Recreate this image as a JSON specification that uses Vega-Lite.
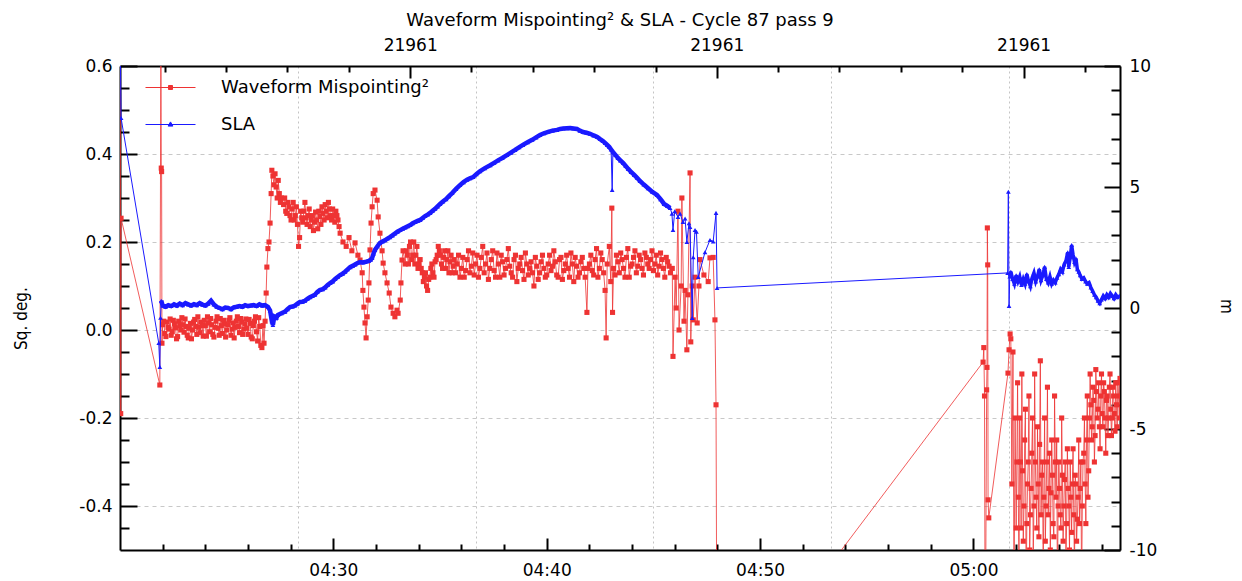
{
  "$schema": "https://vega.github.io/schema/vega-lite/v6.json",
  "width": 1000,
  "height": 484,
  "autosize": {"type": "none"},
  "padding": {"left": 120, "top": 66, "right": 122, "bottom": 31},
  "background": "white",
  "title": {"text": "Waveform Mispointing² & SLA - Cycle 87 pass 9", "font": "DejaVu Sans", "fontSize": 18, "fontWeight": "normal", "color": "#000", "anchor": "middle", "frame": "group", "offset": 6},
  "config": {
    "view": {"stroke": null},
    "axis": {"labelFont": "DejaVu Sans", "labelFontSize": 17, "labelColor": "#000", "tickColor": "#000", "domainColor": "#000", "tickWidth": 2, "domainWidth": 2, "labelFlush": false, "labelOverlap": false, "titleColor": "#000"}
  },
  "layer": [
    {
      "data": {"values": [
        {"t":"04:20:01","v":0.63},{"t":"04:20:02","v":-0.19},{"t":"04:20:03","v":0.254},{"t":"04:21:52","v":-0.125},{"t":"04:21:55","v":0.63},{"t":"04:21:56","v":0.368},{"t":"04:21:57","v":0.36},{"t":"04:21:58","v":-0.03},
        {"t":"04:22:00","v":0.012},{"t":"04:22:06","v":-0.008},{"t":"04:22:12","v":0.018},{"t":"04:22:18","v":0.002},{"t":"04:22:24","v":-0.012},{"t":"04:22:30","v":0.022},{"t":"04:22:36","v":0.005},{"t":"04:22:42","v":-0.015},{"t":"04:22:48","v":0.01},{"t":"04:22:54","v":0.028},
        {"t":"04:23:00","v":-0.005},{"t":"04:23:06","v":0.008},{"t":"04:23:12","v":-0.018},{"t":"04:23:18","v":0.015},{"t":"04:23:24","v":0.0},{"t":"04:23:30","v":0.024},{"t":"04:23:36","v":-0.01},{"t":"04:23:42","v":0.006},{"t":"04:23:48","v":0.018},{"t":"04:23:54","v":-0.014},
        {"t":"04:24:00","v":0.01},{"t":"04:24:06","v":0.03},{"t":"04:24:12","v":-0.004},{"t":"04:24:18","v":0.012},{"t":"04:24:24","v":-0.016},{"t":"04:24:30","v":0.02},{"t":"04:24:36","v":0.004},{"t":"04:24:42","v":0.026},{"t":"04:24:48","v":-0.008},{"t":"04:24:54","v":0.014},
        {"t":"04:25:00","v":0.0},{"t":"04:25:06","v":0.022},{"t":"04:25:12","v":-0.012},{"t":"04:25:18","v":0.016},{"t":"04:25:24","v":0.006},{"t":"04:25:30","v":0.03},{"t":"04:25:36","v":-0.006},{"t":"04:25:42","v":0.018},{"t":"04:25:48","v":0.002},{"t":"04:25:54","v":0.025},
        {"t":"04:26:00","v":-0.01},{"t":"04:26:06","v":0.015},{"t":"04:26:12","v":-0.02},{"t":"04:26:18","v":0.02},{"t":"04:26:24","v":-0.004},{"t":"04:26:30","v":0.028},{"t":"04:26:36","v":-0.035},{"t":"04:26:39","v":-0.04},{"t":"04:26:42","v":0.01},{"t":"04:26:45","v":-0.03},{"t":"04:26:48","v":0.02},{"t":"04:26:51","v":0.084},{"t":"04:26:53","v":0.143},{"t":"04:26:56","v":0.185},{"t":"04:26:59","v":0.2},
        {"t":"04:27:02","v":0.243},{"t":"04:27:05","v":0.31},{"t":"04:27:07","v":0.363},{"t":"04:27:10","v":0.35},{"t":"04:27:13","v":0.33},{"t":"04:27:16","v":0.355},{"t":"04:27:19","v":0.325},{"t":"04:27:22","v":0.3},{"t":"04:27:25","v":0.34},{"t":"04:27:28","v":0.31},{"t":"04:27:31","v":0.29},{"t":"04:27:34","v":0.3},{"t":"04:27:40","v":0.285},{"t":"04:27:46","v":0.27},{"t":"04:27:52","v":0.29},{"t":"04:27:58","v":0.26},
        {"t":"04:28:04","v":0.275},{"t":"04:28:10","v":0.25},{"t":"04:28:16","v":0.28},{"t":"04:28:22","v":0.19},{"t":"04:28:28","v":0.27},{"t":"04:28:34","v":0.245},{"t":"04:28:40","v":0.29},{"t":"04:28:46","v":0.24},{"t":"04:28:52","v":0.275},{"t":"04:28:58","v":0.25},
        {"t":"04:29:04","v":0.226},{"t":"04:29:10","v":0.268},{"t":"04:29:16","v":0.23},{"t":"04:29:22","v":0.258},{"t":"04:29:28","v":0.28},{"t":"04:29:34","v":0.25},{"t":"04:29:40","v":0.27},{"t":"04:29:46","v":0.29},{"t":"04:29:52","v":0.26},{"t":"04:29:58","v":0.275},
        {"t":"04:30:04","v":0.245},{"t":"04:30:10","v":0.26},{"t":"04:30:16","v":0.235},{"t":"04:30:19","v":0.22},{"t":"04:30:27","v":0.2},{"t":"04:30:36","v":0.19},{"t":"04:30:44","v":0.21},{"t":"04:30:52","v":0.18},
        {"t":"04:31:01","v":0.198},{"t":"04:31:09","v":0.17},{"t":"04:31:15","v":0.159},{"t":"04:31:21","v":0.13},{"t":"04:31:23","v":0.09},{"t":"04:31:26","v":0.052},{"t":"04:31:29","v":0.016},{"t":"04:31:32","v":-0.018},{"t":"04:31:35","v":0.03},{"t":"04:31:38","v":0.068},{"t":"04:31:40","v":0.107},{"t":"04:31:43","v":0.182},{"t":"04:31:46","v":0.243},{"t":"04:31:49","v":0.28},{"t":"04:31:52","v":0.31},{"t":"04:31:57","v":0.318},
        {"t":"04:32:03","v":0.295},{"t":"04:32:06","v":0.257},{"t":"04:32:11","v":0.22},{"t":"04:32:17","v":0.18},{"t":"04:32:20","v":0.152},{"t":"04:32:25","v":0.13},{"t":"04:32:31","v":0.107},{"t":"04:32:37","v":0.084},{"t":"04:32:42","v":0.052},{"t":"04:32:48","v":0.038},{"t":"04:32:53","v":0.03},{"t":"04:32:59","v":0.045},
        {"t":"04:33:02","v":0.038},{"t":"04:33:08","v":0.068},{"t":"04:33:10","v":0.107},{"t":"04:33:13","v":0.159},{"t":"04:33:16","v":0.18},{"t":"04:33:22","v":0.15},{"t":"04:33:28","v":0.17},{"t":"04:33:34","v":0.19},{"t":"04:33:40","v":0.16},{"t":"04:33:46","v":0.2},{"t":"04:33:52","v":0.17},{"t":"04:33:58","v":0.14},
        {"t":"04:34:04","v":0.16},{"t":"04:34:10","v":0.13},{"t":"04:34:16","v":0.12},{"t":"04:34:22","v":0.1},{"t":"04:34:28","v":0.115},{"t":"04:34:34","v":0.14},{"t":"04:34:40","v":0.13},{"t":"04:34:46","v":0.155},{"t":"04:34:52","v":0.17},{"t":"04:34:58","v":0.18},
        {"t":"04:35:04","v":0.15},{"t":"04:35:10","v":0.165},{"t":"04:35:16","v":0.14},{"t":"04:35:22","v":0.18},{"t":"04:35:28","v":0.155},{"t":"04:35:34","v":0.13},{"t":"04:35:40","v":0.16},{"t":"04:35:48","v":0.15},{"t":"04:35:56","v":0.12},
        {"t":"04:36:04","v":0.165},{"t":"04:36:12","v":0.135},{"t":"04:36:20","v":0.18},{"t":"04:36:28","v":0.145},{"t":"04:36:36","v":0.125},{"t":"04:36:44","v":0.17},{"t":"04:36:52","v":0.14},
        {"t":"04:37:00","v":0.19},{"t":"04:37:08","v":0.15},{"t":"04:37:16","v":0.115},{"t":"04:37:24","v":0.16},{"t":"04:37:32","v":0.135},{"t":"04:37:40","v":0.175},{"t":"04:37:48","v":0.12},{"t":"04:37:56","v":0.155},
        {"t":"04:38:04","v":0.14},{"t":"04:38:12","v":0.185},{"t":"04:38:20","v":0.13},{"t":"04:38:28","v":0.16},{"t":"04:38:36","v":0.11},{"t":"04:38:44","v":0.15},{"t":"04:38:52","v":0.135},
        {"t":"04:39:00","v":0.175},{"t":"04:39:08","v":0.125},{"t":"04:39:16","v":0.155},{"t":"04:39:24","v":0.1},{"t":"04:39:32","v":0.145},{"t":"04:39:40","v":0.13},{"t":"04:39:48","v":0.17},{"t":"04:39:56","v":0.12},
        {"t":"04:40:04","v":0.15},{"t":"04:40:12","v":0.135},{"t":"04:40:20","v":0.18},{"t":"04:40:28","v":0.125},{"t":"04:40:36","v":0.16},{"t":"04:40:44","v":0.115},{"t":"04:40:52","v":0.15},
        {"t":"04:41:00","v":0.14},{"t":"04:41:08","v":0.175},{"t":"04:41:16","v":0.11},{"t":"04:41:24","v":0.145},{"t":"04:41:32","v":0.13},{"t":"04:41:40","v":0.165},{"t":"04:41:48","v":0.12},{"t":"04:41:53","v":0.04},{"t":"04:41:56","v":0.14},
        {"t":"04:42:04","v":0.17},{"t":"04:42:12","v":0.125},{"t":"04:42:20","v":0.185},{"t":"04:42:28","v":0.14},{"t":"04:42:36","v":0.16},{"t":"04:42:44","v":0.09},{"t":"04:42:47","v":-0.018},{"t":"04:42:50","v":0.15},{"t":"04:42:56","v":0.19},
        {"t":"04:43:00","v":0.11},{"t":"04:43:03","v":0.277},{"t":"04:43:05","v":0.04},{"t":"04:43:08","v":0.14},{"t":"04:43:16","v":0.17},{"t":"04:43:24","v":0.13},{"t":"04:43:32","v":0.16},{"t":"04:43:40","v":0.12},{"t":"04:43:48","v":0.185},{"t":"04:43:56","v":0.145},
        {"t":"04:44:04","v":0.165},{"t":"04:44:12","v":0.13},{"t":"04:44:20","v":0.17},{"t":"04:44:28","v":0.14},{"t":"04:44:36","v":0.175},{"t":"04:44:44","v":0.15},{"t":"04:44:52","v":0.16},
        {"t":"04:45:00","v":0.135},{"t":"04:45:08","v":0.17},{"t":"04:45:16","v":0.145},{"t":"04:45:24","v":0.16},{"t":"04:45:32","v":0.12},{"t":"04:45:40","v":0.155},{"t":"04:45:48","v":0.13},{"t":"04:45:53","v":0.14},{"t":"04:45:55","v":-0.06},
        {"t":"04:46:01","v":0.12},{"t":"04:46:04","v":0.05},{"t":"04:46:09","v":0.27},{"t":"04:46:12","v":0.0},{"t":"04:46:18","v":0.1},{"t":"04:46:20","v":0.3},{"t":"04:46:26","v":0.02},{"t":"04:46:29","v":0.09},{"t":"04:46:34","v":-0.045},{"t":"04:46:37","v":0.08},{"t":"04:46:43","v":0.357},{"t":"04:46:45","v":-0.027},{"t":"04:46:49","v":0.1},{"t":"04:46:52","v":0.023},{"t":"04:46:57","v":0.12},
        {"t":"04:47:03","v":0.016},{"t":"04:47:08","v":0.1},{"t":"04:47:11","v":0.16},{"t":"04:47:22","v":0.125},{"t":"04:47:34","v":0.11},{"t":"04:47:39","v":0.164},{"t":"04:47:48","v":0.165},{"t":"04:47:53","v":0.023},{"t":"04:47:56","v":-0.17},{"t":"04:47:59","v":-0.875},
        {"t":"05:00:27","v":-0.073},{"t":"05:00:29","v":-0.04},{"t":"05:00:31","v":-0.15},{"t":"05:00:33","v":-0.8},{"t":"05:00:37","v":-0.136},{"t":"05:00:38","v":-0.085},{"t":"05:00:39","v":0.232},{"t":"05:00:40","v":0.148},{"t":"05:00:41","v":-0.386},{"t":"05:00:43","v":-0.427},
        {"t":"05:01:37","v":-0.098},{"t":"05:01:40","v":-0.045},{"t":"05:01:43","v":-0.009},{"t":"05:01:45","v":-0.02},{"t":"05:01:48","v":-0.35},{"t":"05:01:51","v":-0.05},{"t":"05:01:54","v":-0.6},{"t":"05:01:57","v":-0.2},
        {"t":"05:02:00","v":-0.45},{"t":"05:02:04","v":-0.12},{"t":"05:02:08","v":-0.55},{"t":"05:02:12","v":-0.3},{"t":"05:02:16","v":-0.1},{"t":"05:02:20","v":-0.48},{"t":"05:02:24","v":-0.25},{"t":"05:02:28","v":-0.6},{"t":"05:02:32","v":-0.35},{"t":"05:02:36","v":-0.15},{"t":"05:02:40","v":-0.42},{"t":"05:02:44","v":-0.28},{"t":"05:02:48","v":-0.52},{"t":"05:02:52","v":-0.1},{"t":"05:02:56","v":-0.38},
        {"t":"05:03:00","v":-0.22},{"t":"05:03:04","v":-0.47},{"t":"05:03:08","v":-0.07},{"t":"05:03:12","v":-0.33},{"t":"05:03:16","v":-0.55},{"t":"05:03:20","v":-0.2},{"t":"05:03:24","v":-0.4},{"t":"05:03:28","v":-0.13},{"t":"05:03:32","v":-0.36},{"t":"05:03:36","v":-0.5},{"t":"05:03:40","v":-0.25},{"t":"05:03:44","v":-0.44},{"t":"05:03:48","v":-0.15},{"t":"05:03:52","v":-0.38},{"t":"05:03:56","v":-0.6},
        {"t":"05:04:00","v":-0.3},{"t":"05:04:04","v":-0.42},{"t":"05:04:08","v":-0.2},{"t":"05:04:12","v":-0.48},{"t":"05:04:16","v":-0.34},{"t":"05:04:20","v":-0.52},{"t":"05:04:24","v":-0.27},{"t":"05:04:28","v":-0.4},{"t":"05:04:32","v":-0.3},{"t":"05:04:36","v":-0.46},{"t":"05:04:40","v":-0.27},{"t":"05:04:44","v":-0.55},{"t":"05:04:48","v":-0.35},{"t":"05:04:52","v":-0.43},{"t":"05:04:56","v":-0.25},
        {"t":"05:05:00","v":-0.36},{"t":"05:05:04","v":-0.6},{"t":"05:05:08","v":-0.3},{"t":"05:05:12","v":-0.2},{"t":"05:05:16","v":-0.44},{"t":"05:05:20","v":-0.15},{"t":"05:05:24","v":-0.32},{"t":"05:05:28","v":-0.1},{"t":"05:05:32","v":-0.25},{"t":"05:05:36","v":-0.13},{"t":"05:05:40","v":-0.3},{"t":"05:05:44","v":-0.09},{"t":"05:05:48","v":-0.2},{"t":"05:05:52","v":-0.12},{"t":"05:05:56","v":-0.27},
        {"t":"05:06:00","v":-0.1},{"t":"05:06:04","v":-0.22},{"t":"05:06:08","v":-0.14},{"t":"05:06:12","v":-0.28},{"t":"05:06:16","v":-0.15},{"t":"05:06:20","v":-0.2},{"t":"05:06:24","v":-0.1},{"t":"05:06:28","v":-0.24},{"t":"05:06:32","v":-0.13},{"t":"05:06:36","v":-0.19},{"t":"05:06:40","v":-0.12},{"t":"05:06:44","v":-0.22},{"t":"05:06:48","v":-0.15},{"t":"05:06:52","v":-0.11},
        {"t":"04:22:03","v":0.02},{"t":"04:22:09","v":-0.015},{"t":"04:22:15","v":0.006},{"t":"04:22:21","v":0.025},{"t":"04:22:27","v":-0.004},{"t":"04:22:33","v":0.014},{"t":"04:22:39","v":-0.02},{"t":"04:22:45","v":0.02},{"t":"04:22:51","v":0.0},{"t":"04:22:57","v":0.012},
        {"t":"04:23:03","v":0.025},{"t":"04:23:09","v":-0.012},{"t":"04:23:15","v":0.004},{"t":"04:23:21","v":-0.02},{"t":"04:23:27","v":0.018},{"t":"04:23:33","v":0.008},{"t":"04:23:39","v":0.03},{"t":"04:23:45","v":-0.006},{"t":"04:23:51","v":0.01},{"t":"04:23:57","v":0.022},
        {"t":"04:24:03","v":-0.014},{"t":"04:24:09","v":0.016},{"t":"04:24:15","v":0.026},{"t":"04:24:21","v":-0.01},{"t":"04:24:27","v":0.006},{"t":"04:24:33","v":0.03},{"t":"04:24:39","v":-0.012},{"t":"04:24:45","v":0.01},{"t":"04:24:51","v":0.022},{"t":"04:24:57","v":-0.016},
        {"t":"04:25:03","v":0.012},{"t":"04:25:09","v":0.028},{"t":"04:25:15","v":0.002},{"t":"04:25:21","v":-0.018},{"t":"04:25:27","v":0.02},{"t":"04:25:33","v":0.008},{"t":"04:25:39","v":0.026},{"t":"04:25:45","v":-0.01},{"t":"04:25:51","v":0.014},{"t":"04:25:57","v":0.004},
        {"t":"04:26:03","v":0.024},{"t":"04:26:09","v":-0.016},{"t":"04:26:15","v":0.01},{"t":"04:26:21","v":0.03},{"t":"04:26:27","v":-0.025},{"t":"04:26:33","v":0.008},
        {"t":"04:27:43","v":0.3},{"t":"04:27:49","v":0.265},{"t":"04:27:55","v":0.28},{"t":"04:28:01","v":0.25},{"t":"04:28:07","v":0.29},{"t":"04:28:13","v":0.26},{"t":"04:28:19","v":0.24},{"t":"04:28:25","v":0.21},{"t":"04:28:31","v":0.255},{"t":"04:28:37","v":0.27},{"t":"04:28:43","v":0.255},{"t":"04:28:49","v":0.26},{"t":"04:28:55","v":0.235},
        {"t":"04:29:01","v":0.26},{"t":"04:29:07","v":0.245},{"t":"04:29:13","v":0.25},{"t":"04:29:19","v":0.27},{"t":"04:29:25","v":0.24},{"t":"04:29:31","v":0.265},{"t":"04:29:37","v":0.285},{"t":"04:29:43","v":0.255},{"t":"04:29:49","v":0.275},{"t":"04:29:55","v":0.25},{"t":"04:30:01","v":0.26},{"t":"04:30:07","v":0.27},{"t":"04:30:13","v":0.25},
        {"t":"04:33:25","v":0.18},{"t":"04:33:31","v":0.15},{"t":"04:33:37","v":0.2},{"t":"04:33:43","v":0.17},{"t":"04:33:49","v":0.15},{"t":"04:33:55","v":0.19},{"t":"04:34:01","v":0.15},{"t":"04:34:07","v":0.14},{"t":"04:34:13","v":0.11},{"t":"04:34:19","v":0.13},{"t":"04:34:25","v":0.09},{"t":"04:34:31","v":0.12},
        {"t":"04:34:37","v":0.15},{"t":"04:34:43","v":0.12},{"t":"04:34:49","v":0.16},{"t":"04:34:55","v":0.19},{"t":"04:35:01","v":0.17},{"t":"04:35:07","v":0.14},{"t":"04:35:13","v":0.18},{"t":"04:35:19","v":0.16},{"t":"04:35:25","v":0.13},{"t":"04:35:31","v":0.17},{"t":"04:35:37","v":0.145},{"t":"04:35:44","v":0.13},
        {"t":"04:35:52","v":0.17},{"t":"04:36:00","v":0.14},{"t":"04:36:08","v":0.12},{"t":"04:36:16","v":0.16},{"t":"04:36:24","v":0.13},{"t":"04:36:32","v":0.175},{"t":"04:36:40","v":0.15},{"t":"04:36:48","v":0.12},{"t":"04:36:56","v":0.165},
        {"t":"04:37:04","v":0.13},{"t":"04:37:12","v":0.175},{"t":"04:37:20","v":0.14},{"t":"04:37:28","v":0.18},{"t":"04:37:36","v":0.12},{"t":"04:37:44","v":0.15},{"t":"04:37:52","v":0.17},
        {"t":"04:38:00","v":0.125},{"t":"04:38:08","v":0.16},{"t":"04:38:16","v":0.145},{"t":"04:38:24","v":0.12},{"t":"04:38:32","v":0.17},{"t":"04:38:40","v":0.14},{"t":"04:38:48","v":0.165},{"t":"04:38:56","v":0.115},
        {"t":"04:39:04","v":0.15},{"t":"04:39:12","v":0.14},{"t":"04:39:20","v":0.13},{"t":"04:39:28","v":0.165},{"t":"04:39:36","v":0.115},{"t":"04:39:44","v":0.155},{"t":"04:39:52","v":0.14},
        {"t":"04:40:00","v":0.125},{"t":"04:40:08","v":0.17},{"t":"04:40:16","v":0.145},{"t":"04:40:24","v":0.155},{"t":"04:40:32","v":0.12},{"t":"04:40:40","v":0.165},{"t":"04:40:48","v":0.135},{"t":"04:40:56","v":0.17},
        {"t":"04:41:04","v":0.12},{"t":"04:41:12","v":0.15},{"t":"04:41:20","v":0.165},{"t":"04:41:28","v":0.12},{"t":"04:41:36","v":0.155},{"t":"04:41:44","v":0.14},
        {"t":"04:42:00","v":0.15},{"t":"04:42:08","v":0.135},{"t":"04:42:16","v":0.16},{"t":"04:42:24","v":0.12},{"t":"04:42:32","v":0.175},{"t":"04:42:40","v":0.13},
        {"t":"04:43:12","v":0.125},{"t":"04:43:20","v":0.155},{"t":"04:43:28","v":0.175},{"t":"04:43:36","v":0.14},{"t":"04:43:44","v":0.165},{"t":"04:43:52","v":0.12},
        {"t":"04:44:00","v":0.15},{"t":"04:44:08","v":0.18},{"t":"04:44:16","v":0.145},{"t":"04:44:24","v":0.16},{"t":"04:44:32","v":0.125},{"t":"04:44:40","v":0.165},{"t":"04:44:48","v":0.14},{"t":"04:44:56","v":0.18},
        {"t":"04:45:04","v":0.15},{"t":"04:45:12","v":0.125},{"t":"04:45:20","v":0.175},{"t":"04:45:28","v":0.14},{"t":"04:45:36","v":0.165},{"t":"04:45:44","v":0.145},
        {"t":"05:02:02","v":-0.3},{"t":"05:02:06","v":-0.38},{"t":"05:02:10","v":-0.2},{"t":"05:02:14","v":-0.45},{"t":"05:02:18","v":-0.32},{"t":"05:02:22","v":-0.4},{"t":"05:02:26","v":-0.18},{"t":"05:02:30","v":-0.44},{"t":"05:02:34","v":-0.3},{"t":"05:02:38","v":-0.5},{"t":"05:02:42","v":-0.36},{"t":"05:02:46","v":-0.2},{"t":"05:02:50","v":-0.4},{"t":"05:02:54","v":-0.3},{"t":"05:02:58","v":-0.45},
        {"t":"05:03:02","v":-0.35},{"t":"05:03:06","v":-0.26},{"t":"05:03:10","v":-0.42},{"t":"05:03:14","v":-0.3},{"t":"05:03:18","v":-0.38},{"t":"05:03:22","v":-0.48},{"t":"05:03:26","v":-0.3},{"t":"05:03:30","v":-0.42},{"t":"05:03:34","v":-0.28},{"t":"05:03:38","v":-0.37},{"t":"05:03:42","v":-0.33},{"t":"05:03:46","v":-0.47},{"t":"05:03:50","v":-0.3},{"t":"05:03:54","v":-0.25},{"t":"05:03:58","v":-0.4},
        {"t":"05:04:02","v":-0.36},{"t":"05:04:06","v":-0.45},{"t":"05:04:10","v":-0.33},{"t":"05:04:14","v":-0.4},{"t":"05:04:18","v":-0.3},{"t":"05:04:22","v":-0.44},{"t":"05:04:26","v":-0.36},{"t":"05:04:30","v":-0.5},{"t":"05:04:34","v":-0.38},{"t":"05:04:38","v":-0.35},{"t":"05:04:42","v":-0.42},{"t":"05:04:46","v":-0.33},{"t":"05:04:50","v":-0.48},{"t":"05:04:54","v":-0.38},{"t":"05:04:58","v":-0.44},
        {"t":"05:05:02","v":-0.3},{"t":"05:05:06","v":-0.4},{"t":"05:05:10","v":-0.28},{"t":"05:05:14","v":-0.35},{"t":"05:05:18","v":-0.25},{"t":"05:05:22","v":-0.38},{"t":"05:05:26","v":-0.2},{"t":"05:05:30","v":-0.17},{"t":"05:05:34","v":-0.22},{"t":"05:05:38","v":-0.16},{"t":"05:05:42","v":-0.24},{"t":"05:05:46","v":-0.14},{"t":"05:05:50","v":-0.18},{"t":"05:05:54","v":-0.22},{"t":"05:05:58","v":-0.15},
        {"t":"05:06:02","v":-0.19},{"t":"05:06:06","v":-0.12},{"t":"05:06:10","v":-0.2},{"t":"05:06:14","v":-0.16},{"t":"05:06:18","v":-0.24},{"t":"05:06:22","v":-0.13},{"t":"05:06:26","v":-0.18},{"t":"05:06:30","v":-0.2},{"t":"05:06:34","v":-0.15},{"t":"05:06:38","v":-0.23},{"t":"05:06:42","v":-0.17},{"t":"05:06:46","v":-0.12},{"t":"05:06:50","v":-0.2}
      ], "format": {"parse": {"t": "date:'%H:%M:%S'"}}},
      "layer": [
        {
          "mark": {"type": "point", "opacity": 0},
          "encoding": {
            "x": {"field": "t", "type": "temporal",
              "scale": {"domain": [{"year":1900,"month":1,"date":1,"hours":4,"minutes":20,"seconds":0},{"year":1900,"month":1,"date":1,"hours":5,"minutes":6,"seconds":52}]},
              "axis": {"orient": "bottom", "title": null, "labels": false, "ticks": false, "domain": false, "grid": true, "gridColor": "#c4c4c4", "gridDash": [2, 3], "gridWidth": 1,
                "values": [{"year":1900,"month":1,"date":1,"hours":4,"minutes":28,"seconds":20},{"year":1900,"month":1,"date":1,"hours":4,"minutes":36,"seconds":40},{"year":1900,"month":1,"date":1,"hours":4,"minutes":45,"seconds":0},{"year":1900,"month":1,"date":1,"hours":4,"minutes":53,"seconds":20},{"year":1900,"month":1,"date":1,"hours":5,"minutes":1,"seconds":40}]}},
            "y": {"field": "v", "type": "quantitative", "scale": {"domain": [-0.5, 0.6], "zero": false, "nice": false}, "axis": null}
          }
        },
        {
          "mark": {"type": "line", "strokeWidth": 1, "opacity": 0.8, "clip": true},
          "encoding": {
            "x": {"field": "t", "type": "temporal",
              "scale": {"domain": [{"year":1900,"month":1,"date":1,"hours":4,"minutes":20,"seconds":0},{"year":1900,"month":1,"date":1,"hours":5,"minutes":6,"seconds":52}]},
              "axis": {"orient": "bottom", "title": null, "format": "%H:%M", "formatType": "time", "grid": false, "tickSize": -12, "labelPadding": 24, "domain": true,
                "values": [{"year":1900,"month":1,"date":1,"hours":4,"minutes":30},{"year":1900,"month":1,"date":1,"hours":4,"minutes":40},{"year":1900,"month":1,"date":1,"hours":4,"minutes":50},{"year":1900,"month":1,"date":1,"hours":5,"minutes":0}]}},
            "y": {"field": "v", "type": "quantitative", "scale": {"domain": [-0.5, 0.6], "zero": false, "nice": false},
              "axis": {"orient": "left", "values": [-0.4, -0.2, 0, 0.2, 0.4, 0.6], "labelExpr": "datum.value < 0 ? '-' + format(-datum.value, '.1f') : format(datum.value, '.1f')",
                "grid": true, "gridColor": "#c8c8c8", "gridDash": [4, 4], "gridWidth": 1, "tickSize": -17, "labelPadding": 25, "domain": true,
                "title": "Sq. deg.", "titleFont": "Liberation Sans Narrow, DejaVu Sans Condensed, sans-serif", "titleFontSize": 17, "titleFontWeight": "normal", "titleX": -99, "titleY": 252, "titleAngle": 270, "titleAlign": "center", "titleBaseline": "middle"}},
            "color": {"datum": "Waveform Mispointing²", "type": "nominal",
              "scale": {"domain": ["Waveform Mispointing²", "SLA"], "range": ["#ee3333", "#1a1aff"]},
              "legend": {"orient": "none", "legendX": 40, "legendY": 11, "title": null, "padding": 0,
                "symbolSize": 400, "labelOffset": 40, "rowPadding": 17, "labelLimit": 500,
                "labelFont": "DejaVu Sans", "labelFontSize": 18, "labelColor": "#000",
                "symbolType": "M-2.5,0H2.5M-0.2,-0.2H0.2V0.2H-0.2Z", "symbolStrokeWidth": 1,
                "encoding": {"symbols": {
                  "shape": {"value": {"expr": "datum.value === 'SLA' ? 'M-2.5,0H2.5M0,-0.26L0.24,0.16H-0.24Z' : 'M-2.5,0H2.5M-0.2,-0.2H0.2V0.2H-0.2Z'"}},
                  "fill": {"value": {"expr": "datum.value === 'SLA' ? '#1a1aff' : '#ee3333'"}},
                  "stroke": {"value": {"expr": "datum.value === 'SLA' ? '#1a1aff' : '#ee3333'"}},
                  "opacity": {"value": 1}
                }}}}
          }
        },
        {
          "mark": {"type": "square", "size": 26, "color": "#ee3333", "opacity": 1, "clip": true},
          "encoding": {
            "x": {"field": "t", "type": "temporal",
              "scale": {"domain": [{"year":1900,"month":1,"date":1,"hours":4,"minutes":20,"seconds":0},{"year":1900,"month":1,"date":1,"hours":5,"minutes":6,"seconds":52}]},
              "axis": {"orient": "bottom", "title": null, "labels": false, "grid": false, "domain": false, "tickSize": -6,
                "values": [{"year":1900,"month":1,"date":1,"hours":4,"minutes":22},{"year":1900,"month":1,"date":1,"hours":4,"minutes":24},{"year":1900,"month":1,"date":1,"hours":4,"minutes":26},{"year":1900,"month":1,"date":1,"hours":4,"minutes":28},{"year":1900,"month":1,"date":1,"hours":4,"minutes":32},{"year":1900,"month":1,"date":1,"hours":4,"minutes":34},{"year":1900,"month":1,"date":1,"hours":4,"minutes":36},{"year":1900,"month":1,"date":1,"hours":4,"minutes":38},{"year":1900,"month":1,"date":1,"hours":4,"minutes":42},{"year":1900,"month":1,"date":1,"hours":4,"minutes":44},{"year":1900,"month":1,"date":1,"hours":4,"minutes":46},{"year":1900,"month":1,"date":1,"hours":4,"minutes":48},{"year":1900,"month":1,"date":1,"hours":4,"minutes":52},{"year":1900,"month":1,"date":1,"hours":4,"minutes":54},{"year":1900,"month":1,"date":1,"hours":4,"minutes":56},{"year":1900,"month":1,"date":1,"hours":4,"minutes":58},{"year":1900,"month":1,"date":1,"hours":5,"minutes":2},{"year":1900,"month":1,"date":1,"hours":5,"minutes":4},{"year":1900,"month":1,"date":1,"hours":5,"minutes":6}]}},
            "y": {"field": "v", "type": "quantitative", "scale": {"domain": [-0.5, 0.6], "zero": false, "nice": false},
              "axis": {"orient": "left", "title": null, "labels": false, "grid": false, "domain": false, "tickSize": -9,
                "values": [-0.45, -0.35, -0.3, -0.25, -0.15, -0.1, -0.05, 0.05, 0.1, 0.15, 0.25, 0.3, 0.35, 0.45, 0.5, 0.55]}}
          }
        }
      ],
      "resolve": {"axis": {"x": "independent", "y": "independent"}}
    },
    {
      "data": {"values": [
        {"t":"04:20:01","v":10.4},{"t":"04:20:03","v":7.85},{"t":"04:21:49","v":-1.45},{"t":"04:21:52","v":-2.44},{"t":"04:21:54","v":-0.4},{"t":"04:21:56","v":0.3},
        {"t":"04:22:00","v":0.1},{"t":"04:22:08","v":0.05},{"t":"04:22:16","v":0.12},{"t":"04:22:24","v":0.08},{"t":"04:22:32","v":0.15},{"t":"04:22:40","v":0.1},{"t":"04:22:48","v":0.18},{"t":"04:22:56","v":0.12},
        {"t":"04:23:04","v":0.2},{"t":"04:23:12","v":0.15},{"t":"04:23:20","v":0.1},{"t":"04:23:28","v":0.16},{"t":"04:23:36","v":0.12},{"t":"04:23:44","v":0.2},{"t":"04:23:52","v":0.14},
        {"t":"04:24:00","v":0.1},{"t":"04:24:08","v":0.18},{"t":"04:24:16","v":0.3},{"t":"04:24:24","v":0.15},{"t":"04:24:32","v":0.05},{"t":"04:24:40","v":0.0},{"t":"04:24:48","v":-0.05},{"t":"04:24:56","v":0.02},
        {"t":"04:25:04","v":0.0},{"t":"04:25:12","v":-0.05},{"t":"04:25:20","v":0.03},{"t":"04:25:28","v":0.05},{"t":"04:25:36","v":0.08},{"t":"04:25:44","v":0.05},{"t":"04:25:52","v":0.12},
        {"t":"04:26:00","v":0.08},{"t":"04:26:08","v":0.1},{"t":"04:26:16","v":0.12},{"t":"04:26:24","v":0.08},{"t":"04:26:32","v":0.15},{"t":"04:26:40","v":0.1},{"t":"04:26:48","v":0.12},{"t":"04:26:56","v":0.05},
        {"t":"04:27:02","v":-0.1},{"t":"04:27:07","v":-0.55},{"t":"04:27:10","v":-0.7},{"t":"04:27:14","v":-0.35},{"t":"04:27:20","v":-0.4},{"t":"04:27:24","v":-0.29},{"t":"04:27:34","v":-0.22},{"t":"04:27:44","v":-0.15},{"t":"04:27:51","v":-0.05},{"t":"04:27:58","v":0.04},
        {"t":"04:28:05","v":0.06},{"t":"04:28:12","v":0.1},{"t":"04:28:19","v":0.18},{"t":"04:28:26","v":0.25},{"t":"04:28:33","v":0.26},{"t":"04:28:40","v":0.3},{"t":"04:28:47","v":0.38},{"t":"04:28:54","v":0.45},{"t":"04:29:01","v":0.5},{"t":"04:29:08","v":0.55},{"t":"04:29:15","v":0.66},{"t":"04:29:22","v":0.74},{"t":"04:29:30","v":0.78},{"t":"04:29:37","v":0.85},{"t":"04:29:44","v":0.95},{"t":"04:29:51","v":1.03},
        {"t":"04:29:58","v":1.1},{"t":"04:30:05","v":1.2},{"t":"04:30:12","v":1.28},{"t":"04:30:19","v":1.36},{"t":"04:30:26","v":1.42},{"t":"04:30:33","v":1.5},{"t":"04:30:40","v":1.6},{"t":"04:30:47","v":1.69},{"t":"04:30:54","v":1.74},{"t":"04:31:01","v":1.8},{"t":"04:31:08","v":1.86},{"t":"04:31:15","v":1.9},{"t":"04:31:22","v":1.88},{"t":"04:31:29","v":1.9},{"t":"04:31:35","v":1.93},{"t":"04:31:40","v":1.95},{"t":"04:31:45","v":2.0},{"t":"04:31:49","v":2.07},{"t":"04:31:53","v":2.25},{"t":"04:31:57","v":2.4},
        {"t":"04:32:04","v":2.55},{"t":"04:32:11","v":2.69},{"t":"04:32:18","v":2.75},{"t":"04:32:25","v":2.8},{"t":"04:32:32","v":2.87},{"t":"04:32:39","v":2.93},{"t":"04:32:46","v":3.0},{"t":"04:32:53","v":3.08},{"t":"04:33:00","v":3.15},{"t":"04:33:08","v":3.22},{"t":"04:33:15","v":3.28},{"t":"04:33:22","v":3.33},{"t":"04:33:29","v":3.38},{"t":"04:33:36","v":3.43},{"t":"04:33:43","v":3.5},{"t":"04:33:50","v":3.55},{"t":"04:33:57","v":3.6},
        {"t":"04:34:04","v":3.64},{"t":"04:34:11","v":3.72},{"t":"04:34:18","v":3.8},{"t":"04:34:25","v":3.86},{"t":"04:34:32","v":3.93},{"t":"04:34:39","v":4.02},{"t":"04:34:46","v":4.1},{"t":"04:34:53","v":4.2},{"t":"04:35:00","v":4.3},{"t":"04:35:08","v":4.4},{"t":"04:35:17","v":4.5},{"t":"04:35:25","v":4.62},{"t":"04:35:34","v":4.75},{"t":"04:35:45","v":4.92},{"t":"04:35:56","v":5.08},
        {"t":"04:36:06","v":5.2},{"t":"04:36:16","v":5.3},{"t":"04:36:24","v":5.36},{"t":"04:36:33","v":5.41},{"t":"04:36:42","v":5.53},{"t":"04:36:52","v":5.65},{"t":"04:37:06","v":5.78},{"t":"04:37:21","v":5.9},{"t":"04:37:32","v":6.0},{"t":"04:37:43","v":6.1},{"t":"04:37:55","v":6.2},{"t":"04:38:08","v":6.32},{"t":"04:38:19","v":6.42},{"t":"04:38:31","v":6.53},{"t":"04:38:42","v":6.64},{"t":"04:38:53","v":6.74},
        {"t":"04:39:06","v":6.85},{"t":"04:39:19","v":6.95},{"t":"04:39:30","v":7.05},{"t":"04:39:41","v":7.15},{"t":"04:39:52","v":7.22},{"t":"04:40:04","v":7.28},{"t":"04:40:16","v":7.33},{"t":"04:40:29","v":7.36},{"t":"04:40:38","v":7.4},{"t":"04:40:46","v":7.42},{"t":"04:40:56","v":7.43},{"t":"04:41:06","v":7.44},{"t":"04:41:15","v":7.42},{"t":"04:41:25","v":7.4},{"t":"04:41:33","v":7.33},{"t":"04:41:42","v":7.27},
        {"t":"04:41:52","v":7.24},{"t":"04:42:02","v":7.2},{"t":"04:42:12","v":7.13},{"t":"04:42:22","v":7.07},{"t":"04:42:30","v":6.98},{"t":"04:42:38","v":6.9},{"t":"04:42:44","v":6.82},{"t":"04:42:50","v":6.74},{"t":"04:42:56","v":6.65},{"t":"04:43:01","v":6.55},{"t":"04:43:04","v":4.88},{"t":"04:43:06","v":6.45},{"t":"04:43:13","v":6.33},{"t":"04:43:20","v":6.2},{"t":"04:43:27","v":6.1},{"t":"04:43:35","v":5.99},{"t":"04:43:42","v":5.87},{"t":"04:43:49","v":5.75},{"t":"04:43:57","v":5.62},
        {"t":"04:44:06","v":5.5},{"t":"04:44:14","v":5.38},{"t":"04:44:22","v":5.25},{"t":"04:44:33","v":5.1},{"t":"04:44:45","v":4.95},{"t":"04:44:57","v":4.8},{"t":"04:45:10","v":4.67},{"t":"04:45:20","v":4.5},{"t":"04:45:30","v":4.3},{"t":"04:45:39","v":4.22},{"t":"04:45:47","v":4.13},{"t":"04:45:52","v":3.9},{"t":"04:45:55","v":3.22},
        {"t":"04:46:00","v":4.0},{"t":"04:46:09","v":3.76},{"t":"04:46:15","v":3.9},{"t":"04:46:23","v":3.55},{"t":"04:46:29","v":3.7},{"t":"04:46:34","v":2.73},{"t":"04:46:40","v":3.5},{"t":"04:46:43","v":3.35},{"t":"04:46:49","v":-0.41},{"t":"04:46:52","v":2.1},{"t":"04:46:57","v":3.22},
        {"t":"04:47:01","v":3.15},{"t":"04:47:06","v":1.28},{"t":"04:47:25","v":2.3},{"t":"04:47:39","v":2.81},{"t":"04:47:48","v":2.75},{"t":"04:47:56","v":3.93},{"t":"04:47:59","v":0.83},
        {"t":"05:01:36","v":1.45},{"t":"05:01:38","v":4.8},{"t":"05:01:40","v":0.08},{"t":"05:01:42","v":1.3},{"t":"05:01:45","v":1.5},{"t":"05:01:50","v":1.2},{"t":"05:01:55","v":1.0},
        {"t":"05:02:00","v":1.35},{"t":"05:02:05","v":1.1},{"t":"05:02:10","v":1.3},{"t":"05:02:15","v":0.95},{"t":"05:02:20","v":1.2},{"t":"05:02:25","v":1.0},{"t":"05:02:30","v":1.4},{"t":"05:02:35","v":1.1},{"t":"05:02:40","v":0.9},{"t":"05:02:45","v":1.25},{"t":"05:02:50","v":1.45},{"t":"05:02:55","v":1.1},
        {"t":"05:03:00","v":1.3},{"t":"05:03:05","v":1.6},{"t":"05:03:10","v":1.15},{"t":"05:03:15","v":1.35},{"t":"05:03:20","v":1.7},{"t":"05:03:25","v":1.2},{"t":"05:03:30","v":1.05},{"t":"05:03:35","v":1.3},{"t":"05:03:40","v":1.0},{"t":"05:03:45","v":1.15},{"t":"05:03:50","v":1.05},{"t":"05:03:55","v":1.25},
        {"t":"05:04:00","v":1.4},{"t":"05:04:05","v":1.6},{"t":"05:04:10","v":1.5},{"t":"05:04:15","v":1.8},{"t":"05:04:20","v":1.95},{"t":"05:04:25","v":2.3},{"t":"05:04:28","v":1.7},{"t":"05:04:32","v":2.1},{"t":"05:04:36","v":2.6},{"t":"05:04:40","v":2.2},{"t":"05:04:44","v":1.9},{"t":"05:04:48","v":2.05},{"t":"05:04:52","v":1.6},{"t":"05:04:56","v":1.5},
        {"t":"05:05:00","v":1.35},{"t":"05:05:05","v":1.2},{"t":"05:05:10","v":1.25},{"t":"05:05:15","v":1.1},{"t":"05:05:20","v":1.0},{"t":"05:05:25","v":1.05},{"t":"05:05:30","v":0.85},{"t":"05:05:35","v":0.7},{"t":"05:05:40","v":0.55},{"t":"05:05:45","v":0.45},{"t":"05:05:50","v":0.3},{"t":"05:05:55","v":0.2},
        {"t":"05:06:00","v":0.35},{"t":"05:06:05","v":0.5},{"t":"05:06:10","v":0.4},{"t":"05:06:15","v":0.55},{"t":"05:06:20","v":0.45},{"t":"05:06:25","v":0.6},{"t":"05:06:30","v":0.5},{"t":"05:06:35","v":0.4},{"t":"05:06:40","v":0.55},{"t":"05:06:45","v":0.45},{"t":"05:06:50","v":0.5}
      ], "format": {"parse": {"t": "date:'%H:%M:%S'"}}},
      "layer": [
        {
          "transform": [{"filter": "time(datum.t) >= time(datetime(1900,0,1,4,21,56)) && time(datum.t) <= time(datetime(1900,0,1,4,45,50)) && datum.v != 4.88"}],
          "mark": {"type": "line", "strokeWidth": 4.5, "opacity": 1, "clip": true, "color": "#1a1aff"},
          "encoding": {
            "x": {"field": "t", "type": "temporal", "axis": null},
            "y": {"field": "v", "type": "quantitative", "axis": null}
          }
        },
        {
          "transform": [{"filter": "time(datum.t) >= time(datetime(1900,0,1,5,1,42))"}],
          "mark": {"type": "line", "strokeWidth": 3.5, "opacity": 1, "clip": true, "color": "#1a1aff"},
          "encoding": {
            "x": {"field": "t", "type": "temporal", "axis": null},
            "y": {"field": "v", "type": "quantitative", "axis": null}
          }
        },
        {
          "mark": {"type": "line", "strokeWidth": 1, "opacity": 1, "clip": true},
          "encoding": {
            "x": {"field": "t", "type": "temporal",
              "scale": {"domain": [{"year":1900,"month":1,"date":1,"hours":4,"minutes":20,"seconds":0},{"year":1900,"month":1,"date":1,"hours":5,"minutes":6,"seconds":52}]},
              "axis": {"orient": "top", "title": null, "labelExpr": "'21961'", "grid": false, "tickSize": -12, "labelPadding": 24, "domain": true,
                "values": [{"year":1900,"month":1,"date":1,"hours":4,"minutes":33,"seconds":36},{"year":1900,"month":1,"date":1,"hours":4,"minutes":47,"seconds":58},{"year":1900,"month":1,"date":1,"hours":5,"minutes":2,"seconds":21}]}},
            "y": {"field": "v", "type": "quantitative", "scale": {"domain": [-10, 10], "zero": false, "nice": false},
              "axis": {"orient": "right", "values": [-10, -5, 0, 5, 10], "labelExpr": "datum.value < 0 ? '-' + format(-datum.value, 'd') : format(datum.value, 'd')",
                "grid": false, "tickSize": -16, "labelPadding": 25, "domain": true,
                "title": "m", "titleFont": "Liberation Sans Narrow, DejaVu Sans Condensed, sans-serif", "titleFontSize": 17, "titleFontWeight": "normal", "titleX": 105, "titleY": 240, "titleAngle": 90, "titleAlign": "center", "titleBaseline": "middle"}},
            "color": {"datum": "SLA", "type": "nominal"}
          }
        },
        {
          "mark": {"type": "point", "shape": "triangle-up", "filled": true, "size": 22, "color": "#1a1aff", "opacity": 1, "clip": true},
          "encoding": {
            "x": {"field": "t", "type": "temporal",
              "scale": {"domain": [{"year":1900,"month":1,"date":1,"hours":4,"minutes":20,"seconds":0},{"year":1900,"month":1,"date":1,"hours":5,"minutes":6,"seconds":52}]},
              "axis": {"orient": "top", "title": null, "labels": false, "grid": false, "domain": false, "tickSize": -6,
                "values": [{"year":1900,"month":1,"date":1,"hours":4,"minutes":22,"seconds":6},{"year":1900,"month":1,"date":1,"hours":4,"minutes":24,"seconds":58},{"year":1900,"month":1,"date":1,"hours":4,"minutes":27,"seconds":51},{"year":1900,"month":1,"date":1,"hours":4,"minutes":30,"seconds":43},{"year":1900,"month":1,"date":1,"hours":4,"minutes":36,"seconds":28},{"year":1900,"month":1,"date":1,"hours":4,"minutes":39,"seconds":21},{"year":1900,"month":1,"date":1,"hours":4,"minutes":42,"seconds":13},{"year":1900,"month":1,"date":1,"hours":4,"minutes":45,"seconds":6},{"year":1900,"month":1,"date":1,"hours":4,"minutes":50,"seconds":51},{"year":1900,"month":1,"date":1,"hours":4,"minutes":53,"seconds":43},{"year":1900,"month":1,"date":1,"hours":4,"minutes":56,"seconds":36},{"year":1900,"month":1,"date":1,"hours":4,"minutes":59,"seconds":28},{"year":1900,"month":1,"date":1,"hours":5,"minutes":5,"seconds":13}]}},
            "y": {"field": "v", "type": "quantitative", "scale": {"domain": [-10, 10], "zero": false, "nice": false},
              "axis": {"orient": "right", "title": null, "labels": false, "grid": false, "domain": false, "tickSize": -9,
                "values": [-9, -8, -7, -6, -4, -3, -2, -1, 1, 2, 3, 4, 6, 7, 8, 9]}}
          }
        }
      ],
      "resolve": {"axis": {"x": "independent", "y": "independent"}}
    }
  ],
  "resolve": {"scale": {"y": "independent"}, "axis": {"x": "independent", "y": "independent"}}
}
